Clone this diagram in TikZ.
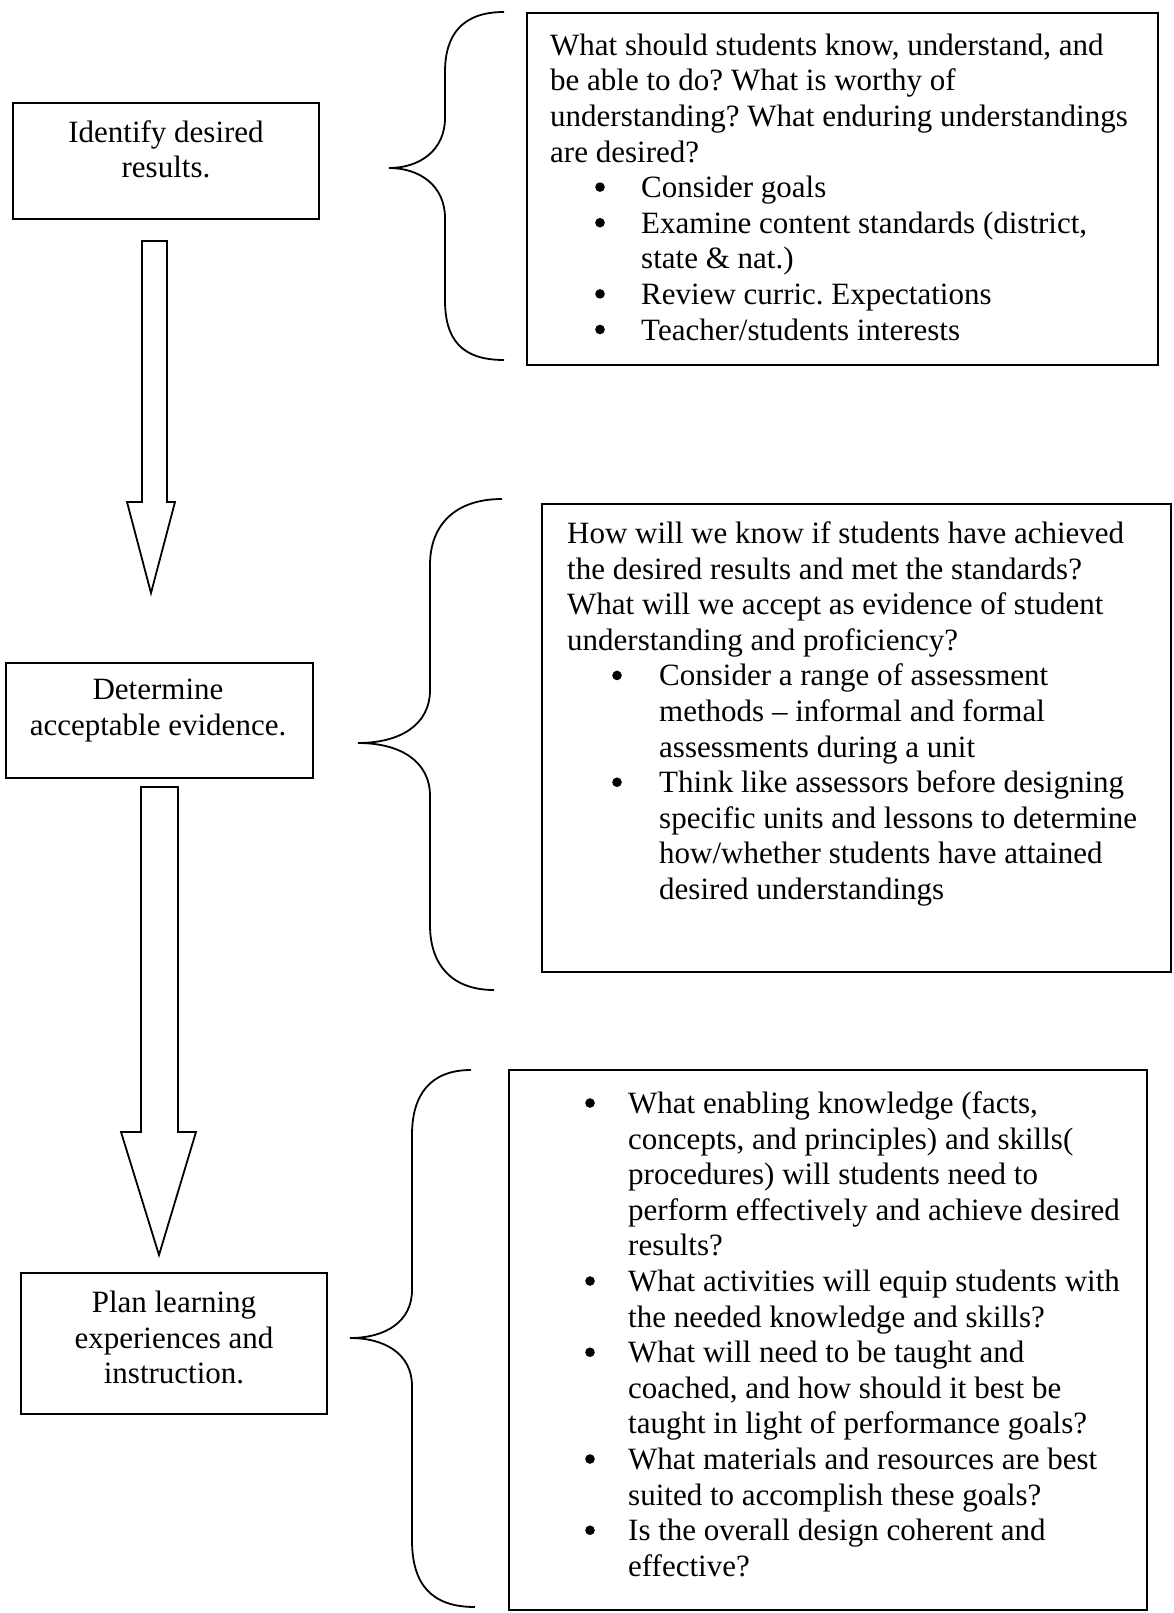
\documentclass[tikz,border=0pt]{standalone}
\usepackage{fontspec}
\setmainfont{Liberation Serif}
\frenchspacing
\newlength\bulx
\newlength\itmx
\newcommand\bi{\makebox[\itmx][l]{\hspace{\bulx}\tikz[x=1cm,y=1cm,baseline=-10.5pt]\fill (0,0) circle[radius=4.8pt];}}
\newcommand\ci{\makebox[\itmx][l]{}}
\begin{document}
\begin{tikzpicture}[x=1pt,y=-1pt,
  txt/.style={inner sep=0pt, font=\fontsize{31}{35.6}\selectfont},
  ltxt/.style={txt, align=center, anchor=north},
  rtxt/.style={txt, align=left, anchor=north west},
  boxnode/.style={draw, line width=1.8pt, inner sep=0pt, rectangle},
  brc/.style={line width=1.8pt},
  blk/.style={line width=1.8pt, line join=miter}]
\fill[white] (0,0) rectangle (1173,1613);
\useasboundingbox (0,0) rectangle (1173,1613);

% left boxes
\node[boxnode, minimum width=306pt, minimum height=116pt] (b1) at (166,161) {};
\node[ltxt] (t1) at (166,120) {Identify desired\\results.};
\node[boxnode, minimum width=307pt, minimum height=115pt] (b2) at (159.5,720.5) {};
\node[ltxt] (t2) at (158,679) {Determine\\acceptable evidence.};
\node[boxnode, minimum width=306pt, minimum height=141pt] (b3) at (174,1343.5) {};
\node[ltxt] (t3) at (174,1291) {Plan learning\\experiences and\\instruction.};

% block arrows
\draw[blk] (142,241) -- (167,241) -- (167,502) -- (175,502) -- (151,593) -- (127,502) -- (142,502) -- cycle;
\draw[blk] (141,787) -- (178,787) -- (178,1132) -- (196,1132) -- (159,1255) -- (121,1132) -- (141,1132) -- cycle;

% braces
\draw[brc] (504,12) .. controls (462,12) and (445,35) .. (445,72) -- (445,118)
  .. controls (445,150) and (420,168) .. (389,168)
  .. controls (420,168) and (445,186) .. (445,218) -- (445,300)
  .. controls (445,340) and (462,360) .. (504,360);
\draw[brc] (502,499) .. controls (455,499) and (430,525) .. (430,565) -- (430,690)
  .. controls (430,725) and (400,743) .. (358,743)
  .. controls (400,743) and (430,761) .. (430,796) -- (430,925)
  .. controls (430,965) and (452,990) .. (494,990);
\draw[brc] (471,1070) .. controls (430,1070) and (412,1095) .. (412,1135) -- (412,1290)
  .. controls (412,1322) and (385,1338) .. (350,1338)
  .. controls (385,1338) and (412,1354) .. (412,1386) -- (412,1540)
  .. controls (412,1585) and (432,1607) .. (475,1607);

% right boxes
\node[boxnode, minimum width=631pt, minimum height=352pt] (r1) at (842.5,189) {};
\node[boxnode, minimum width=629pt, minimum height=468pt] (r2) at (856.5,738) {};
\node[boxnode, minimum width=638pt, minimum height=540pt] (r3) at (828,1340) {};

\node[rtxt, execute at begin node={\setlength\bulx{45pt}\setlength\itmx{91pt}}] (q1) at (550,33.5) {%
What should students know, understand, and\\
be able to do? What is worthy of\\
understanding? What enduring understandings\\
are desired?\\
\bi Consider goals\\
\bi Examine content standards (district,\\
\ci state \& nat.)\\
\bi Review curric. Expectations\\
\bi Teacher/students interests};

\node[rtxt, execute at begin node={\setlength\bulx{45pt}\setlength\itmx{92pt}}] (q2) at (567,521.5) {%
How will we know if students have achieved\\
the desired results and met the standards?\\
What will we accept as evidence of student\\
understanding and proficiency?\\
\bi Consider a range of assessment\\
\ci methods – informal and formal\\
\ci assessments during a unit\\
\bi Think like assessors before designing\\
\ci specific units and lessons to determine\\
\ci how/whether students have attained\\
\ci desired understandings};

\node[rtxt, execute at begin node={\setlength\bulx{3pt}\setlength\itmx{46pt}}] (q3) at (582,1091.5) {%
\bi What enabling knowledge (facts,\\
\ci concepts, and principles) and skills(\\
\ci procedures) will students need to\\
\ci perform effectively and achieve desired\\
\ci results?\\
\bi What activities will equip students with\\
\ci the needed knowledge and skills?\\
\bi What will need to be taught and\\
\ci coached, and how should it best be\\
\ci taught in light of performance goals?\\
\bi What materials and resources are best\\
\ci suited to accomplish these goals?\\
\bi Is the overall design coherent and\\
\ci effective?};
\end{tikzpicture}
\end{document}
